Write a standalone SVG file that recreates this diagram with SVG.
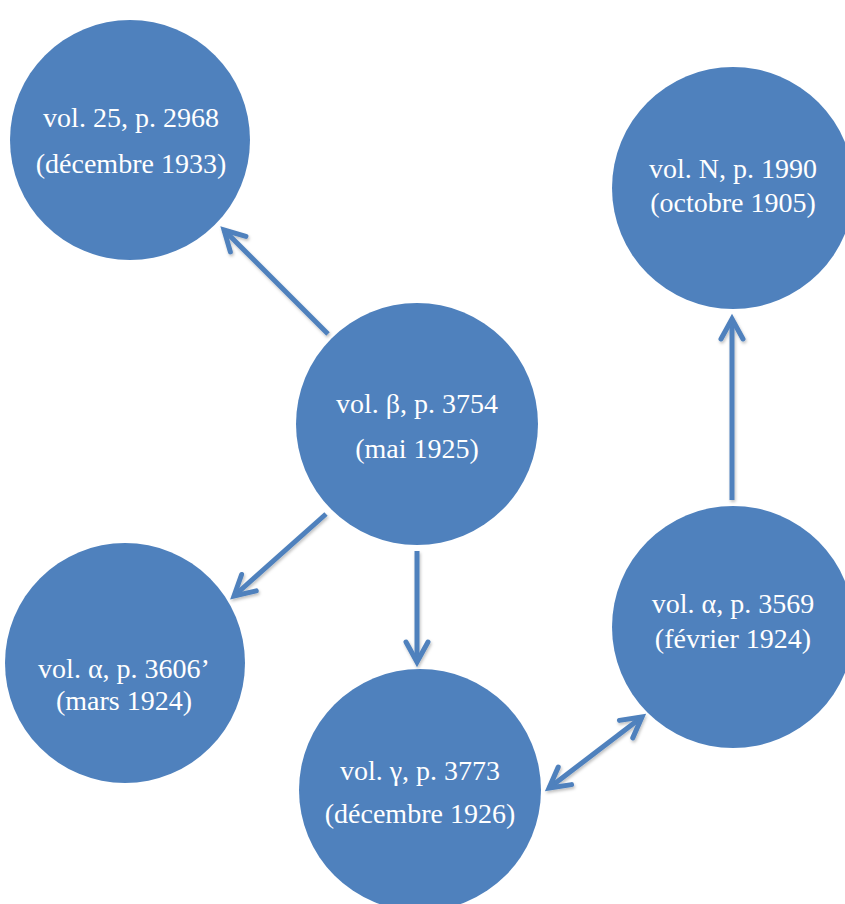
<svg xmlns="http://www.w3.org/2000/svg" width="845" height="904" viewBox="0 0 845 904">
  <style>
    .node { fill: #4F81BD; }
    .lbl { font-family: "Liberation Serif", "DejaVu Serif", serif; font-size: 28px; fill: #FFFFFF; text-anchor: middle; }
    .conn { stroke: #4F81BD; stroke-width: 5; fill: none; }
  </style>
  <defs>
    <marker id="arr" markerUnits="userSpaceOnUse" markerWidth="32" markerHeight="32" viewBox="0 0 32 32" refX="26" refY="16" orient="auto-start-reverse">
      <path d="M6,5 L26,16 L6,27" fill="none" stroke="#4F81BD" stroke-width="5" stroke-linecap="round" stroke-linejoin="miter"/>
    </marker>
    <filter id="sh" x="-20%" y="-20%" width="140%" height="140%">
      <feDropShadow dx="1" dy="2" stdDeviation="1.5" flood-color="#000" flood-opacity="0.25"/>
    </filter>
  </defs>
  <rect width="845" height="904" fill="#FFFFFF"/>

  <g id="connectors" filter="url(#sh)">
    <line class="conn" x1="328" y1="334" x2="224" y2="230" marker-end="url(#arr)"/>
    <line class="conn" x1="326" y1="514" x2="234" y2="596" marker-end="url(#arr)"/>
    <line class="conn" x1="417" y1="551" x2="417" y2="662" marker-end="url(#arr)"/>
    <line class="conn" x1="732" y1="500" x2="732" y2="319" marker-end="url(#arr)"/>
    <line class="conn" x1="549" y1="788" x2="642" y2="717" marker-start="url(#arr)" marker-end="url(#arr)"/>
  </g>

  <g id="n-tl">
    <circle class="node" cx="130" cy="140" r="120"/>
    <text class="lbl" x="131" y="127">vol. 25, p. 2968</text>
    <text class="lbl" x="131" y="173">(décembre 1933)</text>
  </g>
  <g id="n-tr">
    <circle class="node" cx="733" cy="188" r="121"/>
    <text class="lbl" x="733" y="178">vol. N, p. 1990</text>
    <text class="lbl" x="733" y="212">(octobre 1905)</text>
  </g>
  <g id="n-c">
    <circle class="node" cx="417" cy="424" r="121"/>
    <text class="lbl" x="417" y="413">vol. β, p. 3754</text>
    <text class="lbl" x="417" y="458">(mai 1925)</text>
  </g>
  <g id="n-bl">
    <circle class="node" cx="125" cy="663" r="120"/>
    <text class="lbl" x="124" y="678">vol. α, p. 3606’</text>
    <text class="lbl" x="124" y="710">(mars 1924)</text>
  </g>
  <g id="n-bc">
    <circle class="node" cx="420" cy="790" r="121"/>
    <text class="lbl" x="420" y="780">vol. γ, p. 3773</text>
    <text class="lbl" x="420" y="823">(décembre 1926)</text>
  </g>
  <g id="n-r">
    <circle class="node" cx="733" cy="627" r="121"/>
    <text class="lbl" x="733" y="613">vol. α, p. 3569</text>
    <text class="lbl" x="733" y="648">(février 1924)</text>
  </g>
</svg>
